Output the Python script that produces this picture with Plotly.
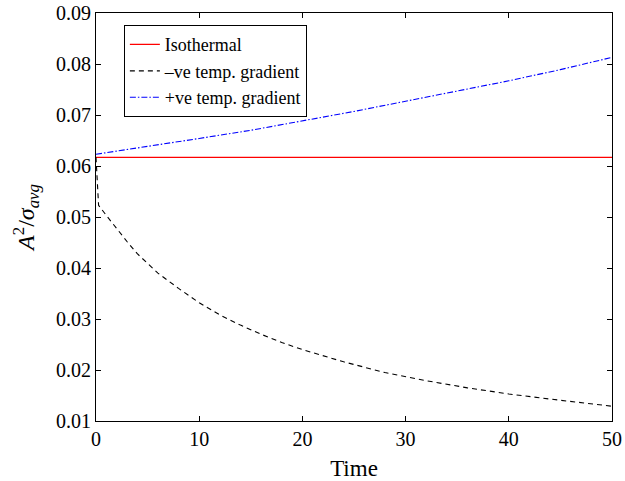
import plotly.graph_objects as go

# Data
t_iso = [0, 50]
iso_vals = [0.0617, 0.0617]

t_neg = [0, 0.25, 1, 2, 3, 4, 5, 6, 8, 10, 12, 14, 16, 18, 20, 24, 28, 32, 36, 40, 44, 48, 50]
neg_vals = [0.0617, 0.0523, 0.0503, 0.0477, 0.0452, 0.0428, 0.0408, 0.0390, 0.0360, 0.0332,
            0.0308, 0.0288, 0.0270, 0.0254, 0.0240, 0.0216, 0.0195, 0.0179, 0.0165, 0.0153,
            0.0143, 0.0134, 0.0129]

t_pos = [0, 5, 10, 15, 20, 25, 30, 35, 40, 45, 50]
pos_vals = [0.0623, 0.0638, 0.0654, 0.0670, 0.0688, 0.0707, 0.0727, 0.0747, 0.0767, 0.0789, 0.0813]

x_ticks = [0, 10, 20, 30, 40, 50]
y_ticks = [0.01, 0.02, 0.03, 0.04, 0.05, 0.06, 0.07, 0.08, 0.09]

font_family = "Liberation Serif"

fig = go.Figure()
fig.add_trace(go.Scatter(x=t_iso, y=iso_vals, mode="lines", name="Isothermal",
                         line=dict(color="#ff0000", width=1.2)))
fig.add_trace(go.Scatter(x=t_neg, y=neg_vals, mode="lines", name="\u2013ve temp. gradient",
                         line=dict(color="black", width=1.1, dash="5px,4px")))
fig.add_trace(go.Scatter(x=t_pos, y=pos_vals, mode="lines", name="+ve temp. gradient",
                         line=dict(color="#0000ff", width=1.1, dash="6px,2px,1.5px,2px")))

axis_common = dict(
    showline=True, linecolor="black", linewidth=1, mirror="ticks",
    ticks="inside", ticklen=5, tickcolor="black", tickwidth=1,
    showgrid=False, zeroline=False, automargin=False,
    ticklabeloverflow="allow",
    tickfont=dict(family=font_family, size=20, color="black"),
)

fig.update_xaxes(range=[0, 50], tickvals=x_ticks, ticktext=[str(v) for v in x_ticks],
                 title=dict(text="Time", font=dict(family=font_family, size=23, color="black"), standoff=12),
                 **axis_common)
fig.update_yaxes(range=[0.01, 0.09], tickvals=y_ticks, ticktext=["%.2f" % v for v in y_ticks],
                 title=dict(text="<i>A</i><sup>2</sup>/<i>σ</i><sub><i>avg</i></sub>",
                            font=dict(family=font_family, size=24, color="black"), standoff=14),
                 **axis_common)

fig.update_layout(
    width=625, height=481,
    margin=dict(l=96, r=13, t=13, b=60),
    paper_bgcolor="white", plot_bgcolor="white",
    font=dict(family=font_family, color="black"),
    showlegend=True,
    legend=dict(x=0.054, y=0.97, xanchor="left", yanchor="top",
                bgcolor="white", bordercolor="black", borderwidth=1,
                font=dict(family=font_family, size=18, color="black"),
                tracegroupgap=0, itemwidth=30),
)

# remove the default 8px page margin so the figure sits at the window's top-left corner
fig.write_html("out.html", config={"displayModeBar": False},
               post_script="document.body.style.margin='0';")
